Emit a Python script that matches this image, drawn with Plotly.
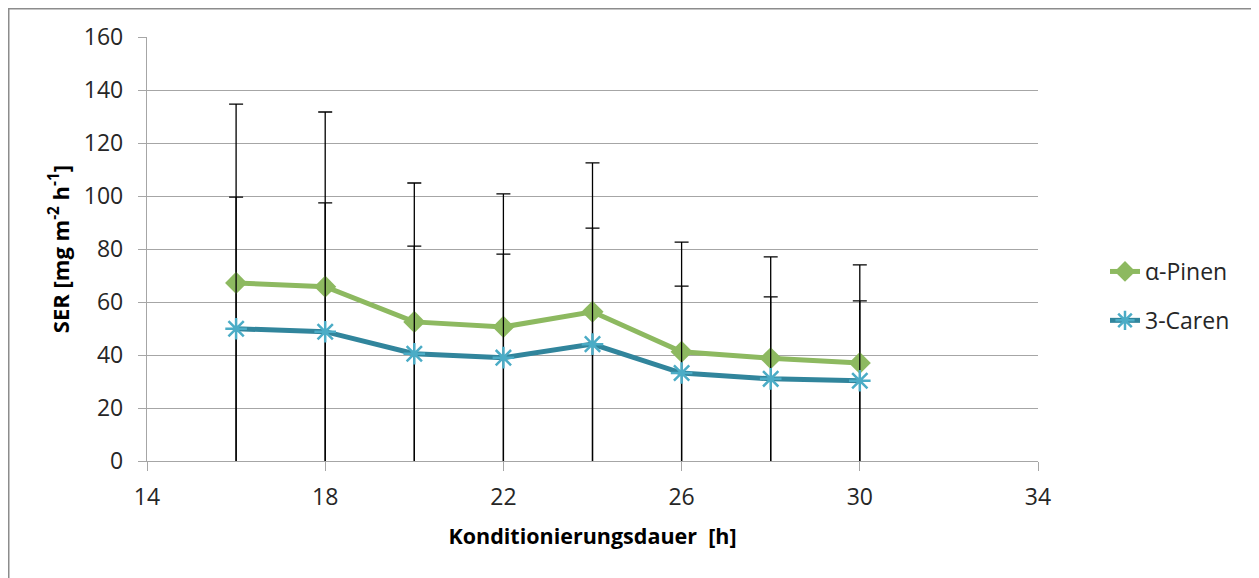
import plotly.graph_objects as go

hours = [16, 18, 20, 22, 24, 26, 28, 30]
pinen = [67.2, 65.8, 52.5, 50.6, 56.3, 41.2, 38.8, 37.0]
pinen_upper = [134.7, 131.7, 104.9, 100.8, 112.5, 82.6, 77.0, 74.0]
caren = [49.9, 48.8, 40.5, 39.0, 44.1, 33.2, 31.0, 30.3]
caren_upper = [99.6, 97.4, 81.1, 78.1, 87.9, 66.0, 61.9, 60.4]
lower_bound = -3.0  # error bars run below the axis (clipped)

x_ticks = [14, 18, 22, 26, 30, 34]
y_ticks = [0, 20, 40, 60, 80, 100, 120, 140, 160]

FONT = "Open Sans"
GRID = "#a6a6a6"

# page body has an 8px offset; plot area in figure coords
L, T, PW, PH = 139, 29, 891, 424
W, H = 1259, 578

fig = go.Figure()
fig.add_trace(go.Scatter(
    x=hours, y=pinen, name="α-Pinen", mode="lines+markers", legendgroup="a",
    line=dict(color="#8db960", width=5),
    marker=dict(symbol="diamond", size=17, color="#8db960"),
    error_y=dict(type="data", symmetric=False,
                 array=[u - v for u, v in zip(pinen_upper, pinen)],
                 arrayminus=[v - lower_bound for v in pinen], visible=True, color="black",
                 thickness=1.3, width=7),
))
fig.add_trace(go.Scatter(
    x=hours, y=caren, name="3-Caren", mode="lines+markers", legendgroup="b",
    line=dict(color="#31859c", width=5),
    marker=dict(symbol="asterisk-open", size=18, color="#4bacc6",
                line=dict(color="#4bacc6", width=2.5)),
    error_y=dict(type="data", symmetric=False,
                 array=[u - v for u, v in zip(caren_upper, caren)],
                 arrayminus=[v - lower_bound for v in caren], visible=True, color="black",
                 thickness=1.3, width=7),
))

fig.update_layout(
    width=W, height=H,
    margin=dict(l=L, r=W - L - PW, t=T, b=H - T - PH),
    paper_bgcolor="white", plot_bgcolor="white",
    font=dict(family=FONT, size=23, color="#262626"),
    showlegend=True,
    legend=dict(x=(1097 - L) / PW, y=(T + PH - (296 - 8)) / PH,
                xanchor="left", yanchor="middle",
                tracegroupgap=16, font=dict(size=23, family=FONT)),
    xaxis=dict(range=[14, 34], tickvals=x_ticks, showgrid=False,
               showline=True, linecolor=GRID, linewidth=1.3,
               ticks="outside", ticklen=9, tickcolor=GRID, tickwidth=1.3,
               zeroline=False, ticklabelstandoff=6,
               title=dict(text="<b>Konditionierungsdauer  [h]</b>", standoff=18,
                          font=dict(size=21.5, family=FONT, color="black")),
               tickfont=dict(size=23)),
    yaxis=dict(range=[0, 160], tickvals=y_ticks, showgrid=True,
               gridcolor=GRID, gridwidth=1.3,
               showline=True, linecolor=GRID, linewidth=1.3,
               ticks="outside", ticklen=8, tickcolor=GRID, tickwidth=1.3,
               zeroline=False, ticklabelstandoff=10,
               title=dict(text="<b>SER [mg m<sup>-2</sup> h<sup>-1</sup>]</b>", standoff=8,
                          font=dict(size=22, family=FONT, color="black")),
               tickfont=dict(size=23)),
)

# outer chart border (left and top visible)
fig.add_shape(type="rect", xref="paper", yref="paper",
              x0=(0.5 - L) / PW, x1=(W + 20 - L) / PW,
              y0=(T + PH - (H + 20)) / PH, y1=(T + PH - 0.5) / PH,
              line=dict(color="#8c8c8c", width=2), layer="below")

fig.write_html("out.html")
